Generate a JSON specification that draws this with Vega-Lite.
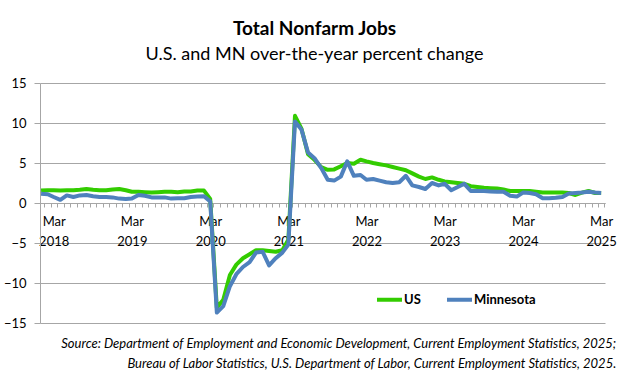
{
 "$schema": "https://vega.github.io/schema/vega-lite/v6.json",
 "padding": {"left": 3, "top": 20, "right": 10, "bottom": 5},
 "background": "white",
 "config": {"view": {"stroke": null}, "font": "Lato"},
 "title": {"text": ["Source: Department of Employment and Economic Development, Current Employment Statistics, 2025;", "Bureau of Labor Statistics, U.S. Department of Labor, Current Employment Statistics, 2025."], "orient": "bottom", "anchor": "end", "font": "Lato", "fontStyle": "italic", "fontWeight": "normal", "fontSize": 13, "lineHeight": 20, "offset": 8, "color": "#000000"},
 "vconcat": [{
  "width": 565,
  "height": 240,
  "title": {"text": "Total Nonfarm Jobs", "subtitle": "U.S. and MN over-the-year percent change", "font": "Lato", "subtitleFont": "Lato", "fontSize": 19, "fontWeight": "bold", "subtitleFontSize": 18, "subtitlePadding": 7, "offset": 13, "anchor": "middle", "dx": -8, "color": "#000000", "subtitleColor": "#000000"},
  "data": {"values": [
   {"date": "2018-01-01", "series": "US", "value": 1.55},
   {"date": "2018-02-01", "series": "US", "value": 1.6},
   {"date": "2018-03-01", "series": "US", "value": 1.6},
   {"date": "2018-04-01", "series": "US", "value": 1.55},
   {"date": "2018-05-01", "series": "US", "value": 1.6},
   {"date": "2018-06-01", "series": "US", "value": 1.6},
   {"date": "2018-07-01", "series": "US", "value": 1.65},
   {"date": "2018-08-01", "series": "US", "value": 1.75},
   {"date": "2018-09-01", "series": "US", "value": 1.65},
   {"date": "2018-10-01", "series": "US", "value": 1.6},
   {"date": "2018-11-01", "series": "US", "value": 1.6},
   {"date": "2018-12-01", "series": "US", "value": 1.7},
   {"date": "2019-01-01", "series": "US", "value": 1.75},
   {"date": "2019-02-01", "series": "US", "value": 1.6},
   {"date": "2019-03-01", "series": "US", "value": 1.4},
   {"date": "2019-04-01", "series": "US", "value": 1.4},
   {"date": "2019-05-01", "series": "US", "value": 1.35},
   {"date": "2019-06-01", "series": "US", "value": 1.3},
   {"date": "2019-07-01", "series": "US", "value": 1.35},
   {"date": "2019-08-01", "series": "US", "value": 1.4},
   {"date": "2019-09-01", "series": "US", "value": 1.4},
   {"date": "2019-10-01", "series": "US", "value": 1.35},
   {"date": "2019-11-01", "series": "US", "value": 1.45},
   {"date": "2019-12-01", "series": "US", "value": 1.45},
   {"date": "2020-01-01", "series": "US", "value": 1.55},
   {"date": "2020-02-01", "series": "US", "value": 1.55},
   {"date": "2020-03-01", "series": "US", "value": 0.5},
   {"date": "2020-04-01", "series": "US", "value": -13.1},
   {"date": "2020-05-01", "series": "US", "value": -12.1},
   {"date": "2020-06-01", "series": "US", "value": -9.0},
   {"date": "2020-07-01", "series": "US", "value": -7.7},
   {"date": "2020-08-01", "series": "US", "value": -6.9},
   {"date": "2020-09-01", "series": "US", "value": -6.4},
   {"date": "2020-10-01", "series": "US", "value": -5.9},
   {"date": "2020-11-01", "series": "US", "value": -5.9},
   {"date": "2020-12-01", "series": "US", "value": -6.0},
   {"date": "2021-01-01", "series": "US", "value": -6.1},
   {"date": "2021-02-01", "series": "US", "value": -5.9},
   {"date": "2021-03-01", "series": "US", "value": -4.6},
   {"date": "2021-04-01", "series": "US", "value": 10.9},
   {"date": "2021-05-01", "series": "US", "value": 9.3},
   {"date": "2021-06-01", "series": "US", "value": 6.1},
   {"date": "2021-07-01", "series": "US", "value": 5.4},
   {"date": "2021-08-01", "series": "US", "value": 4.5},
   {"date": "2021-09-01", "series": "US", "value": 4.15},
   {"date": "2021-10-01", "series": "US", "value": 4.2},
   {"date": "2021-11-01", "series": "US", "value": 4.6},
   {"date": "2021-12-01", "series": "US", "value": 5.0},
   {"date": "2022-01-01", "series": "US", "value": 4.9},
   {"date": "2022-02-01", "series": "US", "value": 5.4},
   {"date": "2022-03-01", "series": "US", "value": 5.2},
   {"date": "2022-04-01", "series": "US", "value": 5.0},
   {"date": "2022-05-01", "series": "US", "value": 4.85},
   {"date": "2022-06-01", "series": "US", "value": 4.7},
   {"date": "2022-07-01", "series": "US", "value": 4.5},
   {"date": "2022-08-01", "series": "US", "value": 4.3},
   {"date": "2022-09-01", "series": "US", "value": 4.1},
   {"date": "2022-10-01", "series": "US", "value": 3.7},
   {"date": "2022-11-01", "series": "US", "value": 3.3},
   {"date": "2022-12-01", "series": "US", "value": 3.0},
   {"date": "2023-01-01", "series": "US", "value": 3.2},
   {"date": "2023-02-01", "series": "US", "value": 2.9},
   {"date": "2023-03-01", "series": "US", "value": 2.7},
   {"date": "2023-04-01", "series": "US", "value": 2.6},
   {"date": "2023-05-01", "series": "US", "value": 2.5},
   {"date": "2023-06-01", "series": "US", "value": 2.4},
   {"date": "2023-07-01", "series": "US", "value": 2.1},
   {"date": "2023-08-01", "series": "US", "value": 2.0},
   {"date": "2023-09-01", "series": "US", "value": 1.9},
   {"date": "2023-10-01", "series": "US", "value": 1.85},
   {"date": "2023-11-01", "series": "US", "value": 1.8},
   {"date": "2023-12-01", "series": "US", "value": 1.7},
   {"date": "2024-01-01", "series": "US", "value": 1.5},
   {"date": "2024-02-01", "series": "US", "value": 1.5},
   {"date": "2024-03-01", "series": "US", "value": 1.5},
   {"date": "2024-04-01", "series": "US", "value": 1.5},
   {"date": "2024-05-01", "series": "US", "value": 1.4},
   {"date": "2024-06-01", "series": "US", "value": 1.3},
   {"date": "2024-07-01", "series": "US", "value": 1.3},
   {"date": "2024-08-01", "series": "US", "value": 1.3},
   {"date": "2024-09-01", "series": "US", "value": 1.3},
   {"date": "2024-10-01", "series": "US", "value": 1.25},
   {"date": "2024-11-01", "series": "US", "value": 1.0},
   {"date": "2024-12-01", "series": "US", "value": 1.3},
   {"date": "2025-01-01", "series": "US", "value": 1.5},
   {"date": "2025-02-01", "series": "US", "value": 1.25},
   {"date": "2025-03-01", "series": "US", "value": 1.25},
   {"date": "2018-01-01", "series": "Minnesota", "value": 1.15},
   {"date": "2018-02-01", "series": "Minnesota", "value": 1.1},
   {"date": "2018-03-01", "series": "Minnesota", "value": 0.75},
   {"date": "2018-04-01", "series": "Minnesota", "value": 0.4},
   {"date": "2018-05-01", "series": "Minnesota", "value": 0.95},
   {"date": "2018-06-01", "series": "Minnesota", "value": 0.75},
   {"date": "2018-07-01", "series": "Minnesota", "value": 0.95},
   {"date": "2018-08-01", "series": "Minnesota", "value": 1.0},
   {"date": "2018-09-01", "series": "Minnesota", "value": 0.85},
   {"date": "2018-10-01", "series": "Minnesota", "value": 0.75},
   {"date": "2018-11-01", "series": "Minnesota", "value": 0.75},
   {"date": "2018-12-01", "series": "Minnesota", "value": 0.7},
   {"date": "2019-01-01", "series": "Minnesota", "value": 0.55},
   {"date": "2019-02-01", "series": "Minnesota", "value": 0.5},
   {"date": "2019-03-01", "series": "Minnesota", "value": 0.55},
   {"date": "2019-04-01", "series": "Minnesota", "value": 1.0},
   {"date": "2019-05-01", "series": "Minnesota", "value": 0.9},
   {"date": "2019-06-01", "series": "Minnesota", "value": 0.7},
   {"date": "2019-07-01", "series": "Minnesota", "value": 0.7},
   {"date": "2019-08-01", "series": "Minnesota", "value": 0.7},
   {"date": "2019-09-01", "series": "Minnesota", "value": 0.55},
   {"date": "2019-10-01", "series": "Minnesota", "value": 0.6},
   {"date": "2019-11-01", "series": "Minnesota", "value": 0.6},
   {"date": "2019-12-01", "series": "Minnesota", "value": 0.75},
   {"date": "2020-01-01", "series": "Minnesota", "value": 0.8},
   {"date": "2020-02-01", "series": "Minnesota", "value": 0.85},
   {"date": "2020-03-01", "series": "Minnesota", "value": 0.2},
   {"date": "2020-04-01", "series": "Minnesota", "value": -13.7},
   {"date": "2020-05-01", "series": "Minnesota", "value": -12.9},
   {"date": "2020-06-01", "series": "Minnesota", "value": -10.4},
   {"date": "2020-07-01", "series": "Minnesota", "value": -8.9},
   {"date": "2020-08-01", "series": "Minnesota", "value": -8.0},
   {"date": "2020-09-01", "series": "Minnesota", "value": -7.4},
   {"date": "2020-10-01", "series": "Minnesota", "value": -6.2},
   {"date": "2020-11-01", "series": "Minnesota", "value": -6.1},
   {"date": "2020-12-01", "series": "Minnesota", "value": -7.8},
   {"date": "2021-01-01", "series": "Minnesota", "value": -6.9},
   {"date": "2021-02-01", "series": "Minnesota", "value": -6.2},
   {"date": "2021-03-01", "series": "Minnesota", "value": -5.2},
   {"date": "2021-04-01", "series": "Minnesota", "value": 10.2},
   {"date": "2021-05-01", "series": "Minnesota", "value": 9.2},
   {"date": "2021-06-01", "series": "Minnesota", "value": 6.3},
   {"date": "2021-07-01", "series": "Minnesota", "value": 5.6},
   {"date": "2021-08-01", "series": "Minnesota", "value": 4.4},
   {"date": "2021-09-01", "series": "Minnesota", "value": 2.9},
   {"date": "2021-10-01", "series": "Minnesota", "value": 2.8},
   {"date": "2021-11-01", "series": "Minnesota", "value": 3.3},
   {"date": "2021-12-01", "series": "Minnesota", "value": 5.2},
   {"date": "2022-01-01", "series": "Minnesota", "value": 3.4},
   {"date": "2022-02-01", "series": "Minnesota", "value": 3.5},
   {"date": "2022-03-01", "series": "Minnesota", "value": 2.9},
   {"date": "2022-04-01", "series": "Minnesota", "value": 3.0},
   {"date": "2022-05-01", "series": "Minnesota", "value": 2.8},
   {"date": "2022-06-01", "series": "Minnesota", "value": 2.6},
   {"date": "2022-07-01", "series": "Minnesota", "value": 2.5},
   {"date": "2022-08-01", "series": "Minnesota", "value": 2.6},
   {"date": "2022-09-01", "series": "Minnesota", "value": 3.4},
   {"date": "2022-10-01", "series": "Minnesota", "value": 2.2},
   {"date": "2022-11-01", "series": "Minnesota", "value": 2.0},
   {"date": "2022-12-01", "series": "Minnesota", "value": 1.75},
   {"date": "2023-01-01", "series": "Minnesota", "value": 2.5},
   {"date": "2023-02-01", "series": "Minnesota", "value": 2.2},
   {"date": "2023-03-01", "series": "Minnesota", "value": 2.4},
   {"date": "2023-04-01", "series": "Minnesota", "value": 1.6},
   {"date": "2023-05-01", "series": "Minnesota", "value": 2.0},
   {"date": "2023-06-01", "series": "Minnesota", "value": 2.4},
   {"date": "2023-07-01", "series": "Minnesota", "value": 1.5},
   {"date": "2023-08-01", "series": "Minnesota", "value": 1.5},
   {"date": "2023-09-01", "series": "Minnesota", "value": 1.5},
   {"date": "2023-10-01", "series": "Minnesota", "value": 1.45},
   {"date": "2023-11-01", "series": "Minnesota", "value": 1.4},
   {"date": "2023-12-01", "series": "Minnesota", "value": 1.4},
   {"date": "2024-01-01", "series": "Minnesota", "value": 0.9},
   {"date": "2024-02-01", "series": "Minnesota", "value": 0.8},
   {"date": "2024-03-01", "series": "Minnesota", "value": 1.3},
   {"date": "2024-04-01", "series": "Minnesota", "value": 1.25},
   {"date": "2024-05-01", "series": "Minnesota", "value": 1.1},
   {"date": "2024-06-01", "series": "Minnesota", "value": 0.6},
   {"date": "2024-07-01", "series": "Minnesota", "value": 0.6},
   {"date": "2024-08-01", "series": "Minnesota", "value": 0.65},
   {"date": "2024-09-01", "series": "Minnesota", "value": 0.75},
   {"date": "2024-10-01", "series": "Minnesota", "value": 1.2},
   {"date": "2024-11-01", "series": "Minnesota", "value": 1.25},
   {"date": "2024-12-01", "series": "Minnesota", "value": 1.3},
   {"date": "2025-01-01", "series": "Minnesota", "value": 1.4},
   {"date": "2025-02-01", "series": "Minnesota", "value": 1.3},
   {"date": "2025-03-01", "series": "Minnesota", "value": 1.25}
  ]},
  "mark": {"type": "line", "strokeWidth": 4, "strokeJoin": "round"},
  "encoding": {
   "x": {"field": "date", "type": "temporal",
    "scale": {"type": "utc", "domain": [{"year": 2017, "month": 12, "date": 27, "utc": true}, {"year": 2025, "month": 3, "date": 19, "utc": true}]},
    "axis": {"orient": "bottom", "offset": -120, "grid": false, "title": null, "domainColor": "#A6A6A6", "tickColor": "#A6A6A6", "tickSize": 4, "tickCount": {"interval": "month", "step": 1}, "tickOffset": 3.25, "labelOffset": -3.25, "labelExpr": "utcmonth(datum.value) == 2 ? ['Mar', utcFormat(datum.value, '%Y')] : ''", "labelOverlap": false, "labelFlush": false, "labelPadding": 8, "labelFont": "Lato", "labelFontSize": 13, "labelLineHeight": 20, "labelColor": "#000000"}},
   "y": {"field": "value", "type": "quantitative",
    "scale": {"domain": [-15, 15], "nice": false},
    "axis": {"values": [-15, -10, -5, 0, 5, 10, 15], "title": null, "grid": true, "gridColor": "#A6A6A6", "domainColor": "#A6A6A6", "tickColor": "#A6A6A6", "tickSize": 6, "labelPadding": 8, "labelFont": "Lato", "labelFontSize": 13, "labelColor": "#000000"}},
   "color": {"field": "series", "type": "nominal",
    "scale": {"domain": ["US", "Minnesota"], "range": ["#33CC00", "#4F81BD"]},
    "legend": {"orient": "none", "legendX": 335, "legendY": 202, "direction": "horizontal", "title": null, "symbolType": "stroke", "symbolStrokeWidth": 4, "symbolSize": 625, "labelFont": "Lato", "labelFontSize": 13, "labelFontWeight": "bold", "labelColor": "#000000", "labelOffset": 0, "columnPadding": 18}}
  }
 }]
}
